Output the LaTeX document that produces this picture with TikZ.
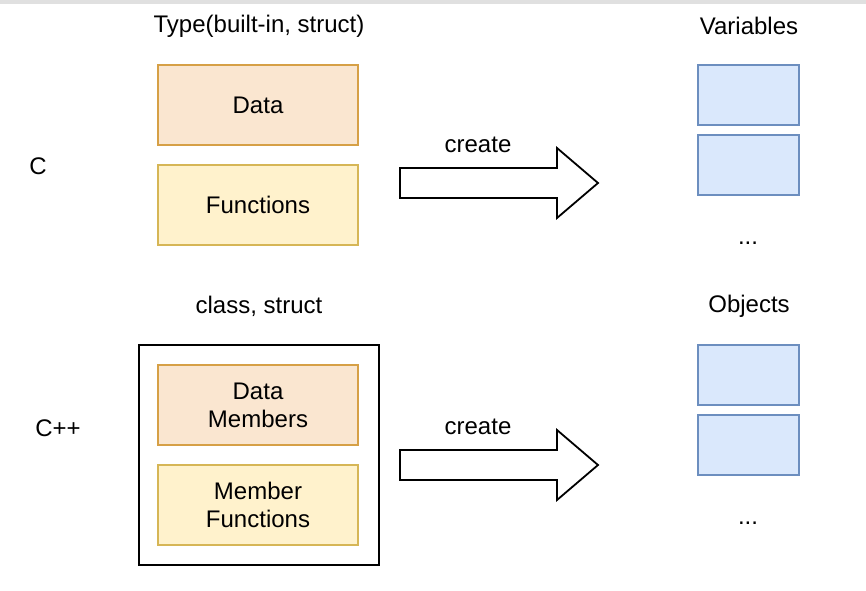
\documentclass[tikz,border=0pt]{standalone}
\usepackage{fontspec}
\setmainfont{Liberation Sans}
\definecolor{orfill}{HTML}{FAE6D0}
\definecolor{ordraw}{HTML}{D6A046}
\definecolor{yefill}{HTML}{FFF2CC}
\definecolor{yedraw}{HTML}{D6B656}
\definecolor{blfill}{HTML}{DAE8FC}
\definecolor{bldraw}{HTML}{6C8EBF}
\begin{document}
\begin{tikzpicture}[x=1pt,y=-1pt,
  every node/.style={font=\fontsize{24}{28}\selectfont, align=center},
  databox/.style={draw=ordraw, fill=orfill, line width=1.6pt, minimum width=200pt, minimum height=80pt, inner sep=0pt},
  funcbox/.style={draw=yedraw, fill=yefill, line width=1.6pt, minimum width=200pt, minimum height=80pt, inner sep=0pt},
  varbox/.style={draw=bldraw, fill=blfill, line width=1.6pt, minimum width=101pt, minimum height=60pt, inner sep=0pt},
  bigarrow/.style={draw=black, fill=white, line width=1.8pt, line join=miter},
  lbl/.style={inner sep=0pt}]
\useasboundingbox (0,0) rectangle (866,590);
\fill[black!12] (0,0) rectangle (866,3.5);
% ---- C ----
\node[lbl] (typelbl) at (259,26) {Type(built-in, struct)};
\node[lbl] (varlbl) at (749,26) {Variables};
\node[lbl] (clbl) at (38,166) {C};
\node[databox] (data) at (258,105) {Data};
\node[funcbox] (funcs) at (258,205) {Functions};
\node[lbl] (create1) at (478,145) {create};
\draw[bigarrow] (400,168) -- (557,168) -- (557,148) -- (598,183) -- (557,218) -- (557,198) -- (400,198) -- cycle;
\node[varbox] (v1) at (748.5,95) {};
\node[varbox] (v2) at (748.5,165) {};
\node[lbl] (vdots) at (748,243) {...};
% ---- C++ ----
\node[lbl] (classlbl) at (259,306) {class, struct};
\node[lbl] (objlbl) at (749,306) {Objects};
\node[lbl] (cpplbl) at (58,428) {C++};
\draw[line width=1.8pt] (139,345) rectangle (379,565);
\node[databox] (dmem) at (258,405) {Data\\Members};
\node[funcbox] (mfun) at (258,505) {Member\\Functions};
\node[lbl] (create2) at (478,427) {create};
\draw[bigarrow] (400,450) -- (557,450) -- (557,430) -- (598,465) -- (557,500) -- (557,480) -- (400,480) -- cycle;
\node[varbox] (o1) at (748.5,375) {};
\node[varbox] (o2) at (748.5,445) {};
\node[lbl] (odots) at (748,523) {...};
\end{tikzpicture}
\end{document}
